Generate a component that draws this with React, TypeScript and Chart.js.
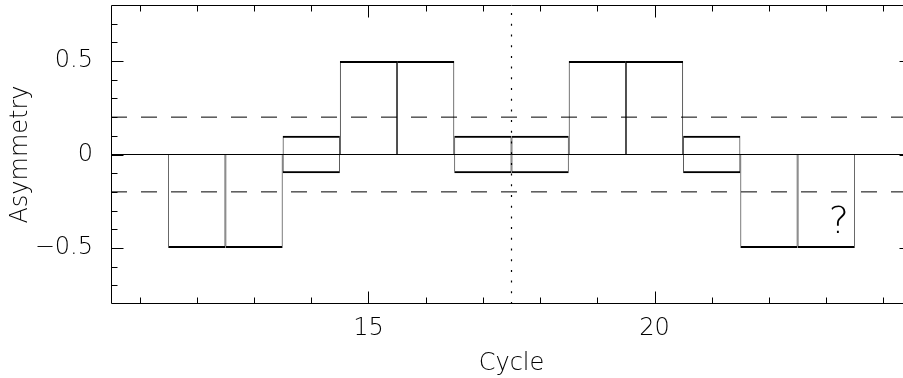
import React, { useEffect, useRef } from 'react';
import { Chart, registerables } from 'chart.js';

Chart.register(...registerables);

// ---- data ----
const cycles = [12, 13, 14, 15, 16, 17, 18, 19, 20, 21, 22, 23];
const upperValues = [0, 0, 0.1, 0.5, 0.5, 0.1, 0.1, 0.5, 0.5, 0.1, 0, 0];
const lowerValues = [-0.5, -0.5, -0.1, 0, 0, -0.1, -0.1, 0, 0, -0.1, -0.5, -0.5];
const xMin = 10.5;
const xMax = 24.5;
const yMin = -0.8;
const yMax = 0.8;
const thresholdLevels = [0.2, -0.2];
const markerCycle = 17.5;
const xLabelValues = [15, 20];
const yLabelValues = [0.5, 0, -0.5];
const yLabelTexts = ['0.5', '0', '\u22120.5'];
const noteText = '?';
const noteCycle = 23.22;
const noteValue = -0.42;

const FONT_FAMILY = "'DejaVu Sans', sans-serif";
const FONT_WEIGHT = '200';

const framePlugin = {
  id: 'frameTicks',
  afterDraw(chart: any) {
    const { ctx, chartArea: a, scales } = chart;
    const xs = scales.x;
    const ys = scales.y;
    const L = Math.round(a.left) + 0.5;
    const R = Math.round(a.right) - 0.5;
    const T = Math.round(a.top) + 0.5;
    const B = Math.round(a.bottom) - 0.5;
    ctx.save();
    ctx.strokeStyle = '#000';
    ctx.lineWidth = 1;
    ctx.setLineDash([]);
    ctx.beginPath();
    ctx.rect(L, T, R - L, B - T);
    for (let i = Math.ceil(xMin); i <= Math.floor(xMax); i++) {
      const px = Math.round(xs.getPixelForValue(i)) + 0.5;
      if (px <= L || px >= R) continue;
      const len = i % 5 === 0 ? 12 : 6;
      ctx.moveTo(px, B);
      ctx.lineTo(px, B - len);
      ctx.moveTo(px, T);
      ctx.lineTo(px, T + len);
    }
    for (let k = Math.ceil(yMin * 10); k <= Math.floor(yMax * 10); k++) {
      const py = Math.round(ys.getPixelForValue(k / 10)) + 0.5;
      if (py <= T || py >= B) continue;
      const len = k % 5 === 0 ? 12 : 6;
      ctx.moveTo(L, py);
      ctx.lineTo(L + len, py);
      ctx.moveTo(R, py);
      ctx.lineTo(R - len, py);
    }
    ctx.stroke();
    ctx.fillStyle = '#000';
    ctx.font = `${FONT_WEIGHT} 38px ${FONT_FAMILY}`;
    ctx.textAlign = 'center';
    ctx.textBaseline = 'alphabetic';
    ctx.fillText(noteText, xs.getPixelForValue(noteCycle), ys.getPixelForValue(noteValue));
    ctx.restore();
  },
};

export default function App() {
  const ref = useRef<HTMLCanvasElement | null>(null);

  useEffect(() => {
    const canvas = ref.current;
    if (!canvas) return;
    const font = { family: FONT_FAMILY, size: 24, weight: FONT_WEIGHT as any };

    const barData = cycles.map((c, i) => ({ x: c, y: [lowerValues[i], upperValues[i]] }));

    const chart = new Chart(canvas, {
      type: 'bar',
      data: {
        datasets: [
          {
            type: 'bar',
            data: barData as any,
            backgroundColor: 'rgba(0,0,0,0)',
            borderColor: '#000',
            borderSkipped: false,
            borderWidth: (ctx: any) => {
              const i = ctx.dataIndex;
              return {
                top: upperValues[i] !== 0 ? 2 : 0,
                bottom: lowerValues[i] !== 0 ? 2 : 0,
                left: 0.75,
                right: 0.75,
              };
            },
            barPercentage: 1,
            categoryPercentage: 1,
            inflateAmount: 0,
          } as any,
          {
            type: 'line',
            data: [
              { x: xMin, y: 0 },
              { x: xMax, y: 0 },
            ],
            borderColor: '#000',
            borderWidth: 1,
            pointRadius: 0,
          } as any,
          ...thresholdLevels.map(
            (lv) =>
              ({
                type: 'line',
                data: [
                  { x: xMin, y: lv },
                  { x: xMax, y: lv },
                ],
                borderColor: '#000',
                borderWidth: 1,
                borderDash: [16, 14],
                pointRadius: 0,
              }) as any
          ),
          {
            type: 'line',
            data: [
              { x: markerCycle, y: yMin },
              { x: markerCycle, y: yMax },
            ],
            borderColor: '#000',
            borderWidth: 1.2,
            borderDash: [2, 8.7],
            pointRadius: 0,
          } as any,
        ],
      },
      options: {
        animation: false,
        responsive: false,
        events: [],
        layout: { padding: { top: 5, right: 8, bottom: 0, left: 0 } },
        plugins: {
          legend: { display: false },
          tooltip: { enabled: false },
        },
        scales: {
          x: {
            type: 'linear',
            min: xMin,
            max: xMax,
            offset: false,
            grid: { display: false, drawTicks: false },
            border: { display: false },
            ticks: {
              autoSkip: false,
              maxRotation: 0,
              padding: 10,
              color: '#000',
              font,
              callback: (v: any) => String(Math.round(v)),
            },
            afterBuildTicks: (s: any) => {
              s.ticks = xLabelValues.map((v) => ({ value: v }));
            },
            title: {
              display: true,
              text: 'Cycle',
              color: '#000',
              font,
              padding: { top: 0, bottom: 0 },
            },
            afterFit: (s: any) => {
              s.height = 74;
              s.paddingLeft = 0;
              s.paddingRight = 0;
            },
          } as any,
          y: {
            type: 'linear',
            min: yMin,
            max: yMax,
            grid: { display: false, drawTicks: false },
            border: { display: false },
            ticks: {
              autoSkip: false,
              padding: 18,
              color: '#000',
              font,
              callback: (v: any) => {
                const idx = yLabelValues.findIndex((t) => Math.abs(t - v) < 1e-6);
                return idx >= 0 ? yLabelTexts[idx] : '';
              },
            },
            afterBuildTicks: (s: any) => {
              s.ticks = yLabelValues.map((v) => ({ value: v }));
            },
            title: {
              display: true,
              text: 'Asymmetry',
              color: '#000',
              font,
              padding: { top: 6, bottom: 0 },
            },
            afterFit: (s: any) => {
              s.width = 111;
              s.paddingTop = 0;
              s.paddingBottom = 0;
            },
          } as any,
        },
      },
      plugins: [framePlugin],
    });

    return () => chart.destroy();
  }, []);

  return (
    <div
      style={{
        position: 'fixed',
        left: 0,
        top: 0,
        width: 903,
        height: 378,
        overflow: 'hidden',
        background: '#fff',
      }}
    >
      <canvas ref={ref} width={920} height={378} style={{ display: 'block', width: 920, height: 378 }} />
    </div>
  );
}
